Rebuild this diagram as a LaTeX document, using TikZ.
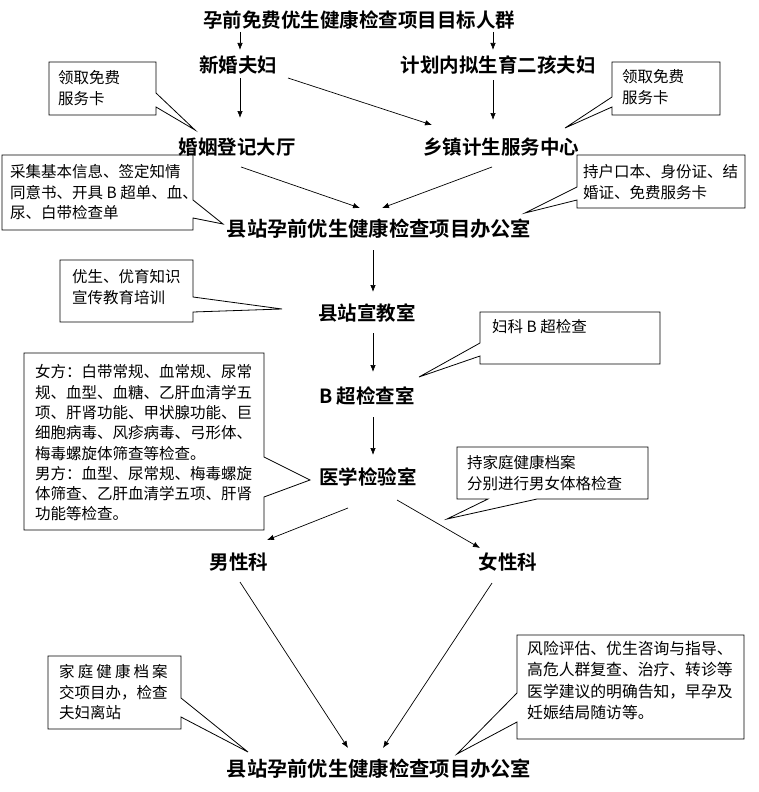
\documentclass[tikz,border=0pt]{standalone}
\usepackage{fontspec}
\setmainfont{Noto Sans CJK SC}
\newfontfamily\hdfont{Noto Sans CJK SC Bold}
\usetikzlibrary{calc,arrows.meta}
\tikzset{
  head/.style={font=\hdfont\fontsize{19.5}{22}\selectfont, inner sep=0pt},
  office/.style={font=\hdfont\fontsize{20.3}{24}\selectfont, inner sep=0pt},
  note/.style={font=\fontsize{15.5}{20.3}\selectfont, align=left, anchor=north west, inner sep=0pt},
  bubble/.style={draw=black, line width=0.8pt, fill=white, line join=miter},
  arr/.style={-{Latex[length=7pt,width=5.5pt]}, line width=0.7pt},
}
\begin{document}
\begin{tikzpicture}[x=1pt,y=-1pt]
\useasboundingbox (0,0) rectangle (758,792);
\fill[white] (0,0) rectangle (758,792);

% callout outlines
\draw[bubble] (49,62) -- (156,62) -- (156,93) -- (195,130) -- (156,107) -- (156,115) -- (49,115) -- cycle;
\draw[bubble] (612,62) -- (720,62) -- (720,115) -- (612,115) -- (612,107) -- (565,128) -- (612,97) -- cycle;
\draw[bubble] (2,155) -- (193,155) -- (193,200) -- (223,224) -- (193,218) -- (193,230) -- (2,230) -- cycle;
\draw[bubble] (577,155) -- (745,155) -- (745,208) -- (577,208) -- (577,200) -- (525,213) -- (577,187) -- cycle;
\draw[bubble] (60,260) -- (193,260) -- (193,297) -- (282,309) -- (193,312) -- (193,322) -- (60,322) -- cycle;
\draw[bubble] (480,312) -- (660,312) -- (660,364) -- (480,364) -- (480,356) -- (419,377) -- (480,343) -- cycle;
\draw[bubble] (24,353) -- (264,353) -- (264,457) -- (310,480) -- (264,497) -- (264,530) -- (24,530) -- cycle;
\draw[bubble] (457,447) -- (648,447) -- (648,499) -- (537,499) -- (447,519) -- (488,499) -- (457,499) -- cycle;
\draw[bubble] (48,656) -- (181,656) -- (181,698) -- (248,752) -- (181,717) -- (181,729) -- (48,729) -- cycle;
\draw[bubble] (517,635) -- (744,635) -- (744,739) -- (517,739) -- (517,722) -- (457,754) -- (517,693) -- cycle;

% callout texts
\node[note] (n1) at (58,70.5) {领取免费\\服务卡};
\node[note] (n2) at (622,69.5) {领取免费\\服务卡};
\node[note] (n3) at (10,164.5) {采集基本信息、签定知情\\同意书、开具 B 超单、血、\\尿、白带检查单};
\node[note] (n4) at (583,164.5) {持户口本、身份证、结\\婚证、免费服务卡};
\node[note] (n5) at (72,269.5) {优生、优育知识\\宣传教育培训};
\node[note] (n6) at (492,319.5) {妇科 B 超检查};
\node[note] (n7) at (35,364.5) {女方：白带常规、血常规、尿常\\规、血型、血糖、乙肝血清学五\\项、肝肾功能、甲状腺功能、巨\\细胞病毒、风疹病毒、弓形体、\\梅毒螺旋体筛查等检查。\\男方：血型、尿常规、梅毒螺旋\\体筛查、乙肝血清学五项、肝肾\\功能等检查。};
\node[note] (n8) at (467,455.5) {持家庭健康档案\\分别进行男女体格检查};
\node[note] (n9) at (59,664.5) {\hbox to 7em{家\hfil 庭\hfil 健\hfil 康\hfil 档\hfil 案}\\交项目办，检查\\夫妇离站};
\node[note, font=\fontsize{15.8}{21.5}\selectfont] (n10) at (527,640.5) {风险评估、优生咨询与指导、\\高危人群复查、治疗、转诊等\\医学建议的明确告知，早孕及\\妊娠结局随访等。};

% main nodes
\node[head] (title) at (359,20) {孕前免费优生健康检查项目目标人群};
\node[head] (xinfu) at (238,65) {新婚夫妇};
\node[head] (jihua) at (498,65) {计划内拟生育二孩夫妇};
\node[head] (hunyin) at (237,147) {婚姻登记大厅};
\node[head] (xiangzhen) at (501,147) {乡镇计生服务中心};
\node[office] (office1) at (379,229) {县站孕前优生健康检查项目办公室};
\node[head] (xuanjiao) at (367,313) {县站宣教室};
\node[head] (bchao) at (367,396) {B 超检查室};
\node[head] (yixue) at (368,477) {医学检验室};
\node[head] (nan) at (239,562) {男性科};
\node[head] (nv) at (508,562) {女性科};
\node[office] (office2) at (379,769) {县站孕前优生健康检查项目办公室};

% connectors
\draw[arr] ($(title)+(-119,12)$) -- ($(xinfu)+(2,-15)$);
\draw[arr] ($(title)+(134,12)$) -- ($(jihua)+(-5,-15)$);
\draw[arr] ($(xinfu)+(2,13)$) -- ($(hunyin)+(3,-29)$);
\draw[arr] ($(jihua)+(-5,15)$) -- ($(xiangzhen)+(-8,-27)$);
\draw[arr] ($(xinfu)+(50,13)$) -- ($(xiangzhen)+(-69,-22)$);
\draw[arr] ($(hunyin)+(4,20)$) -- ($(office1)+(-19,-21)$);
\draw[arr] ($(xiangzhen)+(-9,20)$) -- ($(office1)+(3,-21)$);
\draw[arr] ($(office1)+(-6,21)$) -- ($(xuanjiao)+(6,-21)$);
\draw[arr] ($(xuanjiao)+(6,20)$) -- ($(bchao)+(6,-24)$);
\draw[arr] ($(bchao)+(6,21)$) -- ($(yixue)+(5,-22)$);
\draw[arr] ($(yixue)+(-20,31)$) -- ($(nan)+(28,-22)$);
\draw[arr] ($(yixue)+(29,23)$) -- ($(nv)+(-28,-14)$);
\draw[arr] ($(nan)+(1,20)$) -- ($(office2)+(-31,-21)$);
\draw[arr] ($(nv)+(-16,21)$) -- ($(office2)+(4,-21)$);
\end{tikzpicture}
\end{document}
